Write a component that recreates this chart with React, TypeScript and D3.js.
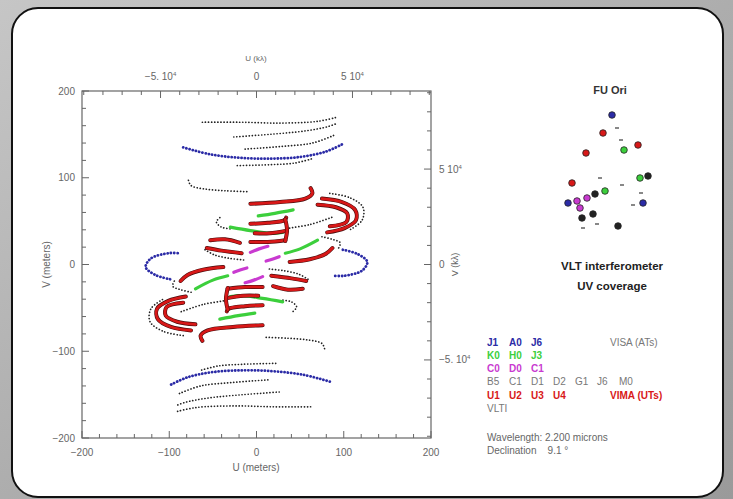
import React from "react";
import * as d3 from "d3";

type P = [number, number];

// uv tracks in meters; each one is also drawn at (-u, -v)
const blackTracks: P[][] = [
  [[-62, 164], [-19, 164], [27, 163], [70, 165], [93, 170]],
  [[-26, 147], [15, 150], [56, 154], [82, 159], [93, 163]],
  [[-13, 133], [27, 136], [64, 140], [89, 149]],
  [[-22, 114], [15, 115], [44, 117], [64, 122]],
  [[-78, 97], [-75, 91], [-59, 87], [-36, 85], [-11, 84]],
  [[84, 82], [107, 77], [122, 66], [121, 51], [107, 40]],
  [[38, 42], [61, 46], [88, 55]],
  [[-42, 54], [-46, 49], [-40, 43], [-28, 41]],
  [[-59, 17], [-48, 11], [-30, 7], [-13, 5]],
  [[75, 32], [87, 29], [96, 25], [93, 17]],
];

const blueTracks: P[][] = [
  [[-84, 135], [-53, 127], [-19, 123], [15, 122], [50, 124], [79, 130], [99, 139]],
  [[99, 17], [116, 12], [127, 3], [121, -7], [101, -13], [90, -13]],
];

const greenTracks: P[][] = [
  [[2, 56], [21, 59], [42, 63]],
  [[-30, 43], [-7, 39], [15, 36], [30, 37]],
  [[33, 13], [50, 18], [70, 28]],
];

const magentaTracks: P[][] = [
  [[-7, 14], [3, 18], [13, 21]],
  [[11, 4], [18, 6], [26, 9]],
];

const redTracks: P[][] = [
  [[-7, 70], [27, 72], [56, 76], [64, 82], [62, 88]],
  [[-7, 47], [13, 48], [32, 51], [34, 54]],
  [[-2, 36], [15, 36], [35, 39]],
  [[-7, 26], [13, 26], [33, 28]],
  [[33, 52], [35, 40], [33, 27]],
  [[75, 76], [98, 72], [113, 63], [114, 51], [101, 42], [81, 37]],
  [[70, 69], [91, 66], [104, 59], [103, 49], [84, 44]],
  [[38, 3], [61, 6], [79, 12], [87, 19]],
  [[-53, 28], [-36, 29], [-19, 25]],
  [[-57, 19], [-40, 16], [-17, 13]],
];

// station layout (east, north in arbitrary units) and array group
const stations: [number, number, string][] = [
  [2, 55, "blue"], [7, 42, "vlti"], [-7, 37, "red"], [11, 30, "vlti"],
  [28, 25, "red"], [14, 20, "green"], [-24, 17, "red"], [38, -6, "black"],
  [30, -8, "green"], [-10, -8, "vlti"], [-38, -13, "red"], [12, -15, "vlti"],
  [-15, -24, "black"], [-5, -21, "green"], [-23, -28, "magenta"], [-42, -33, "blue"],
  [-33, -31, "magenta"], [33, -33, "blue"], [31, -23, "vlti"], [23, -35, "vlti"],
  [-30, -38, "magenta"], [-17, -44, "black"], [-28, -48, "black"], [-13, -54, "vlti"],
  [8, -56, "black"], [-27, -58, "vlti"],
];

const legendBlue = ["J1", "A0", "J6"];
const legendGreen = ["K0", "H0", "J3"];
const legendMagenta = ["C0", "D0", "C1"];
const legendBlack = ["B5", "C1", "D1", "D2", "G1", "J6", "M0"];
const legendRed = ["U1", "U2", "U3", "U4"];

const leftTicks = [200, 100, 0, -100, -200];
const klTicks = [-5e4, 0, 5e4];

const colors: Record<string, string> = {
  black: "#222",
  blue: "#2b2ba6",
  green: "#3ccf3c",
  magenta: "#c93ad0",
  red: "#d81818",
  vlti: "#888",
};

const lambda = 2.2e-6;
const kl = (m: number) => m / lambda / 1000;

export default function App() {
  const x = d3.scaleLinear().domain([-200, 200]).range([82, 431]);
  const y = d3.scaleLinear().domain([-200, 200]).range([438, 91]);
  const xk = d3.scaleLinear().domain([kl(-200), kl(200)]).range([82, 431]);
  const yk = d3.scaleLinear().domain([kl(-200), kl(200)]).range([438, 91]);
  const sx = d3.scaleLinear().domain([-60, 60]).range([550, 670]);
  const sy = d3.scaleLinear().domain([-60, 60]).range([230, 110]);

  const line = d3
    .line<P>()
    .x((d) => x(d[0]))
    .y((d) => y(d[1]))
    .curve(d3.curveCatmullRom.alpha(0.5));

  const both = (tracks: P[][]) =>
    tracks.flatMap((t) => [t, t.map(([u, v]) => [-u, -v] as P)]);

  const mTicks = d3.range(-200, 201, 20);
  const kTicks = d3.range(-90000, 90001, 10000);
  const font = "Liberation Sans, Arial, sans-serif";
  const axisColor = "#666";

  const klLabel = (v: number) =>
    v === 0 ? (
      "0"
    ) : (
      <>
        {v < 0 ? "\u22125. 10" : "5 10"}
        <tspan dy={-4} fontSize={6}>4</tspan>
      </>
    );

  const legendRow = (tokens: string[], color: string, cy: number, bold: boolean) =>
    tokens.map((t, i) => (
      <text
        key={t + i}
        x={487 + i * 22}
        y={cy + 4}
        fill={color}
        fontSize={10}
        fontWeight={bold ? "bold" : "normal"}
      >
        {t}
      </text>
    ));

  return (
    <svg
      width={733}
      height={499}
      style={{ position: "fixed", left: 0, top: 0 }}
      fontFamily={font}
    >
      <defs>
        <linearGradient id="bg" x1="0" y1="0" x2="1" y2="1">
          <stop offset="0" stopColor="#c6c6c6" />
          <stop offset="0.5" stopColor="#adadad" />
          <stop offset="1" stopColor="#9a9a9a" />
        </linearGradient>
      </defs>
      <rect width={733} height={499} fill="url(#bg)" />
      <rect x={12} y={8} width={711} height={489} rx={26} fill="#fff" stroke="#111" strokeWidth={2} />

      {/* frame */}
      <rect x={82} y={91} width={349} height={347} fill="none" stroke={axisColor} strokeWidth={1.2} />
      {mTicks.map((t) => {
        const major = t % 100 === 0;
        const len = major ? 7 : 4;
        return (
          <g key={"m" + t} stroke={axisColor} strokeWidth={1}>
            <line x1={x(t)} x2={x(t)} y1={438} y2={438 - len} />
            <line x1={82} x2={82 + len} y1={y(t)} y2={y(t)} />
          </g>
        );
      })}
      {kTicks.map((t) => {
        const major = t % 50000 === 0;
        const len = major ? 7 : 4;
        return (
          <g key={"k" + t} stroke={axisColor} strokeWidth={1}>
            <line x1={xk(t)} x2={xk(t)} y1={91} y2={91 + len} />
            <line x1={431} x2={431 - len} y1={yk(t)} y2={yk(t)} />
          </g>
        );
      })}

      {/* axis labels */}
      <g fill={axisColor} fontSize={10}>
        {leftTicks.map((t) => (
          <text key={"l" + t} x={75} y={y(t) + 3.5} textAnchor="end">
            {t < 0 ? "\u2212" + -t : t}
          </text>
        ))}
        {leftTicks.map((t) => (
          <text key={"b" + t} x={x(t)} y={456} textAnchor="middle">
            {t < 0 ? "\u2212" + -t : t}
          </text>
        ))}
        {klTicks.map((t) => (
          <text key={"t" + t} x={xk(t)} y={80} textAnchor="middle">
            {klLabel(t)}
          </text>
        ))}
        {klTicks.map((t) => (
          <text key={"r" + t} x={439} y={yk(t) + 3.5} textAnchor="start">
            {klLabel(t)}
          </text>
        ))}
        <text x={256} y={471} textAnchor="middle">U (meters)</text>
        <text x={256} y={61} textAnchor="middle" fontSize={8}>U (k&#955;)</text>
        <text transform={`translate(50,${y(0)}) rotate(-90)`} textAnchor="middle">V (meters)</text>
        <text transform={`translate(458,${y(0)}) rotate(-90)`} textAnchor="middle" fontSize={9}>V (k&#955;)</text>
      </g>

      {/* tracks */}
      <g fill="none" strokeLinecap="round" strokeLinejoin="round">
        {both(blackTracks).map((t, i) => (
          <path key={"k" + i} d={line(t) ?? ""} stroke={colors.black} strokeWidth={1.7} strokeDasharray="0.1 3" />
        ))}
        {both(blueTracks).map((t, i) => (
          <path key={"b" + i} d={line(t) ?? ""} stroke={colors.blue} strokeWidth={2.8} strokeDasharray="0.1 3.2" />
        ))}
        {both(greenTracks).map((t, i) => (
          <path key={"g" + i} d={line(t) ?? ""} stroke={colors.green} strokeWidth={3.2} />
        ))}
        {both(magentaTracks).map((t, i) => (
          <path key={"p" + i} d={line(t) ?? ""} stroke={colors.magenta} strokeWidth={3.2} />
        ))}
        {both(redTracks).map((t, i) => (
          <g key={"r" + i}>
            <path d={line(t) ?? ""} stroke="#4a0d0d" strokeWidth={4} />
            <path d={line(t) ?? ""} stroke={colors.red} strokeWidth={2.8} />
          </g>
        ))}
      </g>

      {/* station layout */}
      <text x={610} y={94} textAnchor="middle" fontSize={11} fontWeight="bold" fill="#333">FU Ori</text>
      {stations.map(([e, n, g], i) =>
        g === "vlti" ? (
          <rect key={i} x={sx(e) - 2} y={sy(n) - 1} width={4} height={2} fill={colors.vlti} />
        ) : (
          <circle key={i} cx={sx(e)} cy={sy(n)} r={3.3} fill={colors[g]} stroke="#222" strokeWidth={0.8} />
        )
      )}
      <text x={612} y={270} textAnchor="middle" fontSize={11.5} fontWeight="bold" fill="#222">VLT interferometer</text>
      <text x={612} y={290} textAnchor="middle" fontSize={11.5} fontWeight="bold" fill="#222">UV coverage</text>

      {/* legend */}
      {legendRow(legendBlue, colors.blue, 342, true)}
      {legendRow(legendGreen, colors.green, 355, true)}
      {legendRow(legendMagenta, colors.magenta, 368, true)}
      {legendRow(legendBlack, "#777", 381, false)}
      {legendRow(legendRed, colors.red, 395, true)}
      <text x={487} y={412} fill="#777" fontSize={10}>VLTI</text>
      <text x={610} y={346} fill="#777" fontSize={10}>VISA (ATs)</text>
      <text x={610} y={399} fill={colors.red} fontSize={10} fontWeight="bold">VIMA (UTs)</text>
      <text x={487} y={441} fill="#666" fontSize={10}>Wavelength:  2.200 microns</text>
      <text x={487} y={454} fill="#666" fontSize={10} style={{ whiteSpace: "pre" }}>
        Declination    9.1 &#176;
      </text>
    </svg>
  );
}
